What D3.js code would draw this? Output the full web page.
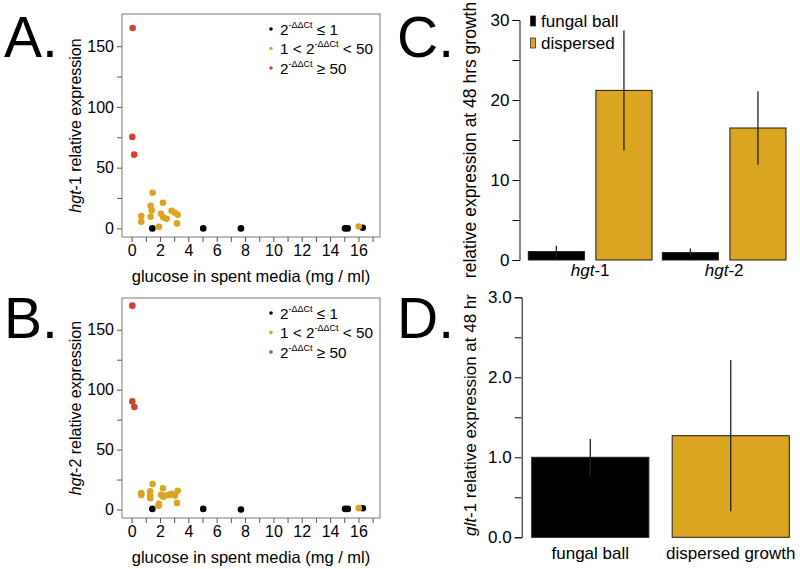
<!DOCTYPE html>
<html>
<head>
<meta charset="utf-8">
<script src="https://cdn.jsdelivr.net/npm/d3@7"></script>
<style>
  body { margin: 0; background: #fff; }
  svg { font-family: "Liberation Sans", Arial, sans-serif; }
</style>
</head>
<body>
<svg id="fig" width="800" height="569"></svg>
<script>
// ---- data: [glucose mg/ml, relative expression] ----
const hgt1Low = [[1.46, 0], [5.05, 0], [7.71, 0], [15.05, 0], [15.24, 0], [16.3, 0.5]];
const hgt1Mid = [[1.48, 29.3], [1.34, 18.6], [1.41, 14.8], [1.34, 9.6], [0.68, 10.2], [0.68, 5.5],
  [1.93, 1.3], [2.21, 21.1], [2.07, 12.1], [2.24, 9.0], [2.47, 7.9], [2.82, 14.5],
  [3.06, 12.8], [3.25, 11.2], [3.2, 4.1], [16.02, 1.6]];
const hgt1High = [[0.07, 165], [0.05, 75.3], [0.18, 60.7]];

const hgt2Low = [[1.46, 0.5], [5.05, 0.5], [7.71, 0], [15.06, 0.5], [15.25, 0.5], [16.31, 1]];
const hgt2Mid = [[1.48, 21.3], [1.31, 15.2], [0.68, 13.8], [0.68, 12.1], [1.31, 11.6], [1.31, 9.4],
  [1.93, 4.7], [1.9, 3.2], [2.21, 17.7], [2.07, 12.2], [2.24, 10.6], [2.47, 11.9],
  [2.82, 13.0], [3.06, 11.6], [3.25, 15.7], [3.2, 5.5], [2.7, 12.4], [16.02, 1.1]];
const hgt2High = [[0.05, 170.1], [0.05, 90.2], [0.19, 85.5]];

const glucoseTicks = [0, 1, 2, 3, 4, 5, 6, 7, 8, 9, 10, 11, 12, 13, 14, 15, 16, 17];
const exprTicks = [0, 25, 50, 75, 100, 125, 150];

const genes = ["hgt-1", "hgt-2"];
const conditions = ["fungal ball", "dispersed"];
const hgtMean = { "fungal ball": [1.05, 0.92], "dispersed": [21.2, 16.5] };
const hgtErr = { "fungal ball": [0.7, 0.53], "dispersed": [7.5, 4.6] };
const hgtTicks = [0, 5, 10, 15, 20, 25, 30];

const gltGroups = ["fungal ball", "dispersed growth"];
const gltMean = [1.0, 1.27];
const gltErr = [0.23, 0.945];
const gltTicks = [0, 0.5, 1, 1.5, 2, 2.5, 3];

const BLACK = "#000000", GOLD = "#DAA520", RED = "#D2432F";
const FONT = "Liberation Sans, Arial, sans-serif";

const svg = d3.select("#fig");

// ---------- scatter panels ----------
function drawScatter(top, bottom, low, mid, high, gene) {
  const left = 122, right = 380;
  const x = d3.scaleLinear().domain([-0.68, 17.52]).range([left, right]);
  const y = d3.scaleLinear().domain([-7.1, 176.5]).range([bottom, top]);
  const g = svg.append("g");

  g.append("rect")
    .attr("x", left).attr("y", top)
    .attr("width", right - left).attr("height", bottom - top)
    .attr("fill", "none").attr("stroke", "#7a7a7a").attr("stroke-width", 1);

  const xAxis = g.append("g")
    .attr("transform", `translate(0,${bottom})`)
    .call(d3.axisBottom(x).tickValues(glucoseTicks).tickSize(5).tickPadding(3)
      .tickFormat(d => (d % 2 === 0 && d <= 16) ? d : ""));
  const yAxis = g.append("g")
    .attr("transform", `translate(${left},0)`)
    .call(d3.axisLeft(y).tickValues(exprTicks).tickSize(5).tickPadding(3)
      .tickFormat(d => d % 50 === 0 ? d : ""));
  [xAxis, yAxis].forEach(a => {
    a.select(".domain").remove();
    a.selectAll("line").attr("stroke", "#555");
    a.selectAll("text").attr("font-size", 16).attr("fill", "#000").attr("font-family", FONT);
  });

  g.append("text")
    .attr("x", (left + right) / 2).attr("y", bottom + 45)
    .attr("text-anchor", "middle").attr("font-size", 16.5)
    .text("glucose in spent media (mg / ml)");

  const yl = g.append("text")
    .attr("transform", `translate(81,${(top + bottom) / 2}) rotate(-90)`)
    .attr("text-anchor", "middle").attr("font-size", 16);
  yl.append("tspan").attr("font-style", "italic").text("hgt");
  yl.append("tspan").text(gene.slice(3) + " relative expression");

  [[low, BLACK], [mid, GOLD], [high, RED]].forEach(([pts, col]) => {
    g.selectAll(null).data(pts).join("circle")
      .attr("cx", d => x(d[0])).attr("cy", d => y(d[1]))
      .attr("r", 3.3).attr("fill", col);
  });

  // legend
  const items = [
    { col: BLACK, pre: "2", sup: "-ΔΔCt", post: " ≤ 1" },
    { col: GOLD, pre: "1 < 2", sup: "-ΔΔCt", post: " < 50" },
    { col: RED, pre: "2", sup: "-ΔΔCt", post: " ≥ 50" }
  ];
  items.forEach((it, i) => {
    const cy = top + 15 + i * 19.5;
    g.append("circle").attr("cx", 271).attr("cy", cy).attr("r", 1.8).attr("fill", it.col);
    const t = g.append("text").attr("x", 280).attr("y", cy + 5.5).attr("font-size", 15.3);
    t.append("tspan").text(it.pre);
    t.append("tspan").attr("font-size", 9).attr("dy", -7).text(it.sup);
    t.append("tspan").attr("dy", 7).text(it.post);
  });
}

drawScatter(14, 237, hgt1Low, hgt1Mid, hgt1High, "hgt-1");
drawScatter(298, 518, hgt2Low, hgt2Mid, hgt2High, "hgt-2");

// ---------- panel C ----------
(function () {
  const y = d3.scaleLinear().domain([0, 30]).range([260, 20]);
  const x0 = d3.scaleBand().domain(genes).range([528.3, 786]).paddingInner(0.077);
  const x1 = d3.scaleBand().domain(conditions).range([0, x0.bandwidth()]).paddingInner(0.17);
  const color = d3.scaleOrdinal().domain(conditions).range([BLACK, GOLD]);
  const g = svg.append("g");

  const ax = g.append("g").attr("transform", "translate(519.5,0)")
    .call(d3.axisLeft(y).tickValues(hgtTicks).tickSize(7).tickPadding(3)
      .tickFormat(d => d % 10 === 0 ? d : ""));
  ax.selectAll("text").attr("font-size", 17).attr("font-family", FONT);
  ax.selectAll("line, path").attr("stroke", "#111");

  const rows = [];
  conditions.forEach(c => genes.forEach((gn, i) =>
    rows.push({ gene: gn, cond: c, mean: hgtMean[c][i], err: hgtErr[c][i] })));

  g.selectAll("rect.bar").data(rows).join("rect").attr("class", "bar")
    .attr("x", d => x0(d.gene) + x1(d.cond))
    .attr("width", x1.bandwidth())
    .attr("y", d => y(d.mean))
    .attr("height", d => y(0) - y(d.mean))
    .attr("fill", d => color(d.cond))
    .attr("stroke", "#1a1a1a").attr("stroke-width", 1);

  g.selectAll("line.err").data(rows).join("line").attr("class", "err")
    .attr("x1", d => x0(d.gene) + x1(d.cond) + x1.bandwidth() / 2)
    .attr("x2", d => x0(d.gene) + x1(d.cond) + x1.bandwidth() / 2)
    .attr("y1", d => y(d.mean - d.err))
    .attr("y2", d => y(d.mean + d.err))
    .attr("stroke", "#222").attr("stroke-width", 1.3);

  genes.forEach(gn => {
    const t = g.append("text").attr("x", x0(gn) + x0.bandwidth() / 2).attr("y", 276)
      .attr("text-anchor", "middle").attr("font-size", 17);
    t.append("tspan").attr("font-style", "italic").text(gn.slice(0, 3));
    t.append("tspan").text(gn.slice(3));
  });

  conditions.forEach((c, i) => {
    const cy = 21 + i * 22;
    g.append("rect").attr("x", 530.5).attr("y", cy - 5).attr("width", 5).attr("height", 10)
      .attr("fill", color(c)).attr("stroke", "#1a1a1a").attr("stroke-width", 0.7);
    g.append("text").attr("x", 541).attr("y", cy + 6).attr("font-size", 17).text(c);
  });

  g.append("text")
    .attr("transform", "translate(476,140) rotate(-90)")
    .attr("text-anchor", "middle").attr("font-size", 17.5)
    .text("relative expression at 48 hrs growth");
})();

// ---------- panel D ----------
(function () {
  const y = d3.scaleLinear().domain([0, 3]).range([537.3, 297.3]);
  const x = d3.scaleBand().domain(gltGroups).range([531.7, 789.3]).paddingInner(0.166);
  const g = svg.append("g");

  const ax = g.append("g").attr("transform", "translate(521.7,0)")
    .call(d3.axisLeft(y).tickValues(gltTicks).tickSize(7).tickPadding(3)
      .tickFormat(d => d % 1 === 0 ? d3.format(".1f")(d) : ""));
  ax.selectAll("text").attr("font-size", 17).attr("font-family", FONT);
  ax.selectAll("line, path").attr("stroke", "#111");

  g.selectAll("rect.bar").data(gltGroups).join("rect").attr("class", "bar")
    .attr("x", d => x(d)).attr("width", x.bandwidth())
    .attr("y", (d, i) => y(gltMean[i]))
    .attr("height", (d, i) => y(0) - y(gltMean[i]))
    .attr("fill", (d, i) => i === 0 ? BLACK : GOLD)
    .attr("stroke", "#1a1a1a").attr("stroke-width", 1);

  g.selectAll("line.err").data(gltGroups).join("line").attr("class", "err")
    .attr("x1", d => x(d) + x.bandwidth() / 2).attr("x2", d => x(d) + x.bandwidth() / 2)
    .attr("y1", (d, i) => y(gltMean[i] - gltErr[i]))
    .attr("y2", (d, i) => y(gltMean[i] + gltErr[i]))
    .attr("stroke", "#222").attr("stroke-width", 1.3);

  g.selectAll("text.cat").data(gltGroups).join("text").attr("class", "cat")
    .attr("x", d => x(d) + x.bandwidth() / 2).attr("y", 559)
    .attr("text-anchor", "middle").attr("font-size", 17).text(d => d);

  const t = g.append("text")
    .attr("transform", "translate(476,415) rotate(-90)")
    .attr("text-anchor", "middle").attr("font-size", 17);
  t.append("tspan").attr("font-style", "italic").text("glt");
  t.append("tspan").text("-1 relative expression at 48 hr");
})();

// ---------- panel letters ----------
const letters = [["A.", 4, 57], ["B.", 4, 338], ["C.", 397, 57], ["D.", 397, 338]];
svg.selectAll("text.letter").data(letters).join("text").attr("class", "letter")
  .attr("x", d => d[1]).attr("y", d => d[2])
  .attr("font-size", 57).text(d => d[0]);
</script>
</body>
</html>
